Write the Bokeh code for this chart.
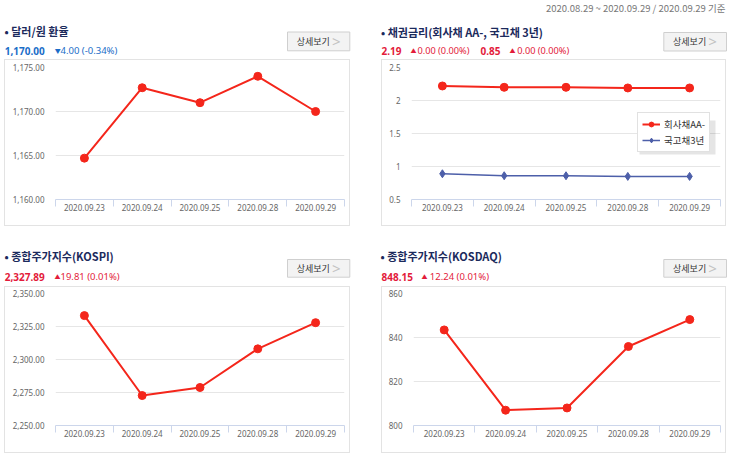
from bokeh.plotting import figure
from bokeh.models import (Range1d, FixedTicker, NumeralTickFormatter,
                          Legend, LegendItem, Spacer, BoxAnnotation)
from bokeh.core.properties import value
from bokeh.layouts import column, row
from bokeh.embed import file_html
from bokeh.resources import INLINE

# ---------------- data ----------------
dates = ["2020.09.23", "2020.09.24", "2020.09.25", "2020.09.28", "2020.09.29"]
usd_krw = [1164.7, 1172.7, 1171.0, 1174.0, 1170.0]
corp_aa = [2.22, 2.20, 2.20, 2.19, 2.19]
ktb_3y = [0.89, 0.86, 0.86, 0.85, 0.85]
kospi = [2333.24, 2272.70, 2278.79, 2308.08, 2327.89]
kosdaq = [843.44, 806.95, 807.98, 835.91, 848.15]

usd_ticks = [1160, 1165, 1170, 1175]
bond_ticks = [0.5, 1, 1.5, 2, 2.5]
kospi_ticks = [2250, 2275, 2300, 2325, 2350]
kosdaq_ticks = [800, 820, 840, 860]

titles = ["달러/원 환율", "채권금리(회사채 AA-, 국고채 3년)", "종합주가지수(KOSPI)", "종합주가지수(KOSDAQ)"]
series_names = ["회사채AA-", "국고채3년"]
period_text = "2020.08.29 ~ 2020.09.29 / 2020.09.29 기준"
button_text = "상세보기"

# ---------------- style ----------------
KR = "Noto Sans CJK KR"
NUM = "Noto Sans"
NAVY = "#1b2a5c"
RED_TXT = "#e31b3b"
BLUE_TXT = "#1a6dc8"
RED = "#f4261b"
BLUE = "#4d5fa9"
AXIS = "#ccd6eb"
GRID = "#e6e6e6"
LBL = "#666666"
BOX = "#e3e3e3"

n = len(dates)
xs = [i + 0.5 for i in range(n)]


# ---------- header strips (pixel-space figures) ----------
class Header:
    def __init__(self, W, H, origin):
        self.ox, self.oy = origin
        p = figure(width=W, height=H, x_range=Range1d(0, W), y_range=Range1d(H, 0),
                   x_axis_type=None, y_axis_type=None, min_border=0,
                   output_backend="svg", toolbar_location=None, tools="")
        p.outline_line_color = None
        p.grid.visible = False
        self.p = p

    def text(self, X, Y, t, size, color, bold=False, align="left", font=KR):
        self.p.text(x=[X - self.ox], y=[Y - self.oy], text=[t],
                    text_font=value(font), text_font_size=value(f"{size}px"),
                    text_color=color, text_font_style="bold" if bold else "normal",
                    text_align=align, text_baseline="middle")

    def button(self, X0, Y0, X1, Y1):
        self.p.quad(left=[X0 - self.ox], right=[X1 - self.ox], top=[Y0 - self.oy],
                    bottom=[Y1 - self.oy], fill_color="#f3f3f3", line_color="#cfcfcf")
        ym = (Y0 + Y1) / 2
        self.text(X0 + 25.8, ym, button_text, 9, "#333333", False, "center")
        self.text(X0 + 48.7, ym - 0.5, ">", 15, "#c2c2c2", False, "center", NUM)

    def title(self, X, Y, t):
        self.text(X, Y, "•", 11, NAVY, True)
        self.text(X + 6.7, Y, t, 11, NAVY, True)


def make_chart(W, H, bl, br, bt, bb, ylo, yhi, ticks, fmt):
    p = figure(width=W, height=H, x_range=Range1d(0, n), y_range=Range1d(ylo, yhi),
               output_backend="svg", toolbar_location=None, tools="",
               min_border_left=bl, min_border_right=br, min_border_top=bt,
               min_border_bottom=bb,
               styles={"border": f"1px solid {BOX}", "box-sizing": "content-box"})
    p.outline_line_color = None
    p.xgrid.visible = False
    p.ygrid.grid_line_color = GRID
    xa = p.xaxis[0]
    xa.ticker = FixedTicker(ticks=xs, minor_ticks=list(range(n + 1)))
    xa.major_label_overrides = {x: d for x, d in zip(xs, dates)}
    xa.axis_line_color = AXIS
    xa.major_tick_out = 0
    xa.major_tick_in = 0
    xa.minor_tick_out = 7
    xa.minor_tick_in = 0
    xa.minor_tick_line_color = AXIS
    xa.major_label_standoff = -3
    xa.major_label_text_font = NUM
    xa.major_label_text_font_size = "8px"
    xa.major_label_text_color = LBL
    ya = p.yaxis[0]
    ya.ticker = FixedTicker(ticks=ticks)
    ya.formatter = NumeralTickFormatter(format=fmt)
    ya.axis_line_color = None
    ya.major_tick_line_color = None
    ya.minor_tick_line_color = None
    ya.major_tick_out = 0
    ya.major_tick_in = 0
    ya.major_label_standoff = 11
    ya.major_label_text_font = NUM
    ya.major_label_text_font_size = "8px"
    ya.major_label_text_color = LBL
    return p


# ---------- headers ----------
h1 = Header(365, 59, (0, 0))
h1.title(4, 30.7, titles[0])
h1.text(4.3, 50, "1,170.00", 10, BLUE_TXT, True, font=NUM)
h1.text(54.3, 50, "▼", 6, BLUE_TXT)
h1.text(60, 50, "4.00 (-0.34%)", 9.5, BLUE_TXT, font=NUM)
h1.button(287, 31.5, 349.3, 50.3)

h2 = Header(378, 59, (365, 0))
h2.title(380.5, 31.7, titles[1])
h2.text(381, 50, "2.19", 10, RED_TXT, True, font=NUM)
h2.text(410, 50, "▲", 6, RED_TXT)
h2.text(417, 50, "0.00 (0.00%)", 9.2, RED_TXT, font=NUM)
h2.text(480, 50, "0.85", 10, RED_TXT, True, font=NUM)
h2.text(509, 50, "▲", 6, RED_TXT)
h2.text(516.7, 50, "0.00 (0.00%)", 9.2, RED_TXT, font=NUM)
h2.button(663.3, 32, 726, 50.5)
h2.text(725, 7.3, period_text, 9.5, "#777777", False, "right")

h3 = Header(365, 60, (0, 226))
h3.title(4, 255, titles[2])
h3.text(4.3, 276, "2,327.89", 10, RED_TXT, True, font=NUM)
h3.text(54, 276, "▲", 6, RED_TXT)
h3.text(60, 276, "19.81 (0.01%)", 9.5, RED_TXT, font=NUM)
h3.button(287, 259, 349.3, 276.7)

h4 = Header(378, 60, (365, 226))
h4.title(380, 255, titles[3])
h4.text(381, 276, "848.15", 10, RED_TXT, True, font=NUM)
h4.text(421, 276, "▲", 6, RED_TXT)
h4.text(429.3, 276, "12.24 (0.01%)", 9.5, RED_TXT, font=NUM)
h4.button(663.3, 259, 726, 276.7)

# ---------- charts ----------
c1 = make_chart(344, 165, 50, 7, 7, 28, 1160, 1175, usd_ticks, "0,0.00")
c1.line(xs, usd_krw, line_color=RED, line_width=2)
c1.scatter(xs, usd_krw, size=8, color=RED)

c2 = make_chart(343, 165, 29, 7, 7, 28, 0.5, 2.5, bond_ticks, "0.[0]")
r_line = c2.line(xs, corp_aa, line_color=RED, line_width=2)
r_pts = c2.scatter(xs, corp_aa, size=8, color=RED)
b_line = c2.line(xs, ktb_3y, line_color=BLUE, line_width=1.5)
b_pts = c2.scatter(xs, ktb_3y, size=8, color=BLUE, marker="diamond")
# soft shadow behind the legend box
c2.add_layout(BoxAnnotation(left=228, right=304, bottom=45, top=79,
                            left_units="screen", right_units="screen",
                            top_units="screen", bottom_units="screen",
                            fill_color="#000000", fill_alpha=0.10, line_color=None))
leg = Legend(items=[LegendItem(label=series_names[0], renderers=[r_line, r_pts]),
                    LegendItem(label=series_names[1], renderers=[b_line, b_pts])],
             location=(226, 47))
leg.label_text_font = KR
leg.label_text_font_size = "9.5px"
leg.label_text_color = "#333333"
leg.border_line_color = "#c4c4c4"
leg.background_fill_color = "white"
leg.background_fill_alpha = 1
leg.padding = 4
leg.spacing = 2
leg.margin = 0
leg.glyph_width = 18
leg.glyph_height = 12
leg.label_height = 12
leg.label_standoff = 4
c2.add_layout(leg)

c3 = make_chart(344, 165, 50, 7, 6, 29, 2250, 2350, kospi_ticks, "0,0.00")
c3.line(xs, kospi, line_color=RED, line_width=2)
c3.scatter(xs, kospi, size=8, color=RED)

c4 = make_chart(343, 165, 31, 7, 6, 29, 800, 860, kosdaq_ticks, "0")
c4.line(xs, kosdaq, line_color=RED, line_width=2)
c4.scatter(xs, kosdaq, size=8, color=RED)

lay = column(row(h1.p, h2.p),
             row(Spacer(width=4, height=167), c1, Spacer(width=31, height=167), c2),
             row(h3.p, h4.p),
             row(Spacer(width=4, height=167), c3, Spacer(width=31, height=167), c4))
open("out.html", "w").write(file_html(lay, INLINE))
